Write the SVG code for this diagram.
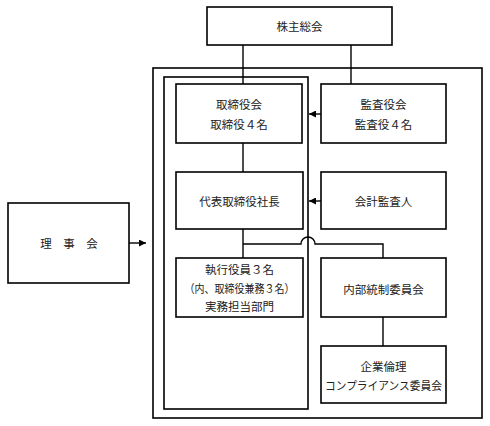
<svg xmlns="http://www.w3.org/2000/svg" width="490" height="426" viewBox="0 0 490 426">
<defs>
<style>
.box{fill:#fff;stroke:#000;stroke-width:1.6}
.frame{fill:none;stroke:#000;stroke-width:1.6}
.ln{fill:none;stroke:#000;stroke-width:1.4}
text{font-family:"Noto Sans CJK JP","Noto Sans CJK SC",sans-serif;font-size:11.5px;fill:#222;text-anchor:middle;dominant-baseline:central}
</style>
<marker id="ah" viewBox="0 0 10 10" refX="10" refY="5" markerWidth="7" markerHeight="7" markerUnits="userSpaceOnUse" orient="auto">
<path d="M0,0 L10,5 L0,10 z" fill="#000"/>
</marker>
</defs>
<rect width="490" height="426" fill="#fff"/>
<g id="frames">
<rect class="frame" x="153" y="68" width="329" height="350"/>
<rect class="frame" x="164" y="77" width="144" height="332"/>
</g>
<g id="connectors">
<path class="ln" d="M243,45 V84"/>
<path class="ln" d="M351,45 V84"/>
<path class="ln" d="M243,143 V172"/>
<path class="ln" d="M243,229 V258"/>
<path class="ln" d="M243,244 H301 A7,7 0 0 1 315,244 H383 V258"/>
<path class="ln" d="M383,317 V346"/>
<path class="ln" d="M321,114 H309" marker-end="url(#ah)"/>
<path class="ln" d="M321,201 H309" marker-end="url(#ah)"/>
<path class="ln" d="M120,243 H146" marker-end="url(#ah)"/>
</g>
<g id="kabunushi">
<rect class="box" x="207" y="7" width="185" height="38"/>
<text x="299.5" y="26">株主総会</text>
</g>
<g id="torishimariyakukai">
<rect class="box" x="176" y="84" width="126" height="59"/>
<text x="239" y="104">取締役会</text>
<text x="239" y="124">取締役４名</text>
</g>
<g id="kansayakukai">
<rect class="box" x="321" y="84" width="125" height="59"/>
<text x="383.5" y="104">監査役会</text>
<text x="383.5" y="124">監査役４名</text>
</g>
<g id="shacho">
<rect class="box" x="176" y="172" width="127" height="57"/>
<text x="239.5" y="201">代表取締役社長</text>
</g>
<g id="kaikei">
<rect class="box" x="321" y="172" width="125" height="57"/>
<text x="383.5" y="201">会計監査人</text>
</g>
<g id="rijikai">
<rect class="box" x="8" y="203" width="121" height="80"/>
<text x="69" y="243">理　事　会</text>
</g>
<g id="shikko">
<rect class="box" x="176" y="258" width="127" height="59"/>
<text x="239.5" y="269">執行役員３名</text>
<text x="239.5" y="288" textLength="110" lengthAdjust="spacingAndGlyphs">（内、取締役兼務３名）</text>
<text x="239.5" y="306">実務担当部門</text>
</g>
<g id="naibu">
<rect class="box" x="321" y="258" width="125" height="59"/>
<text x="383.5" y="289">内部統制委員会</text>
</g>
<g id="kigyo">
<rect class="box" x="321" y="346" width="125" height="57"/>
<text x="383.5" y="366">企業倫理</text>
<text x="383.5" y="385" textLength="117" lengthAdjust="spacingAndGlyphs">コンプライアンス委員会</text>
</g>
</svg>
